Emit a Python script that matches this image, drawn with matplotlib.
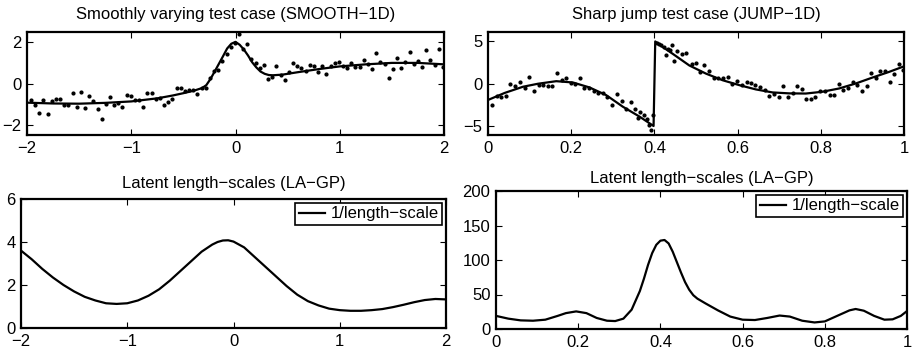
import numpy as np
import matplotlib
matplotlib.use('Agg')
import matplotlib.pyplot as plt
from matplotlib.ticker import FuncFormatter

plt.rcParams['font.family'] = ['Liberation Sans', 'DejaVu Sans']

# ---------------- SMOOTH-1D ----------------
smooth_title = "Smoothly varying test case (SMOOTH\u22121D)"
smooth_x_first, smooth_x_last = -1.962, 1.989
smooth_obs_y = [-0.78, -1.06, -1.44, -0.79, -1.50, -0.87, -0.77, -0.74, -1.03, -1.03,
                -0.44, -1.16, -0.39, -1.19, -0.61, -0.87, -1.26, -1.71, -0.98, -0.66,
                -1.06, -0.95, -1.16, -0.58, -0.60, -0.82, -0.79, -1.16, -0.45, -0.45,
                -0.77, -0.70, -1.06, -0.92, -0.77, -0.24, -0.24, -0.35, -0.32, -0.30,
                -0.53, -0.22, -0.24, 0.29, 0.62, 0.65, 1.10, 1.45, 1.78, 1.95,
                2.40, 1.66, 1.90, 1.18, 1.00, 0.74, 0.90, 0.21, 0.31, 0.87,
                0.42, 0.15, 0.58, 1.00, 0.84, 0.77, 0.61, 0.90, 0.87, 0.58,
                0.84, 0.45, 0.84, 1.00, 1.03, 0.87, 0.73, 0.98, 0.82, 0.82,
                1.15, 0.95, 0.71, 1.47, 1.02, 0.95, 0.27, 0.69, 1.26, 0.74,
                1.05, 1.55, 0.94, 1.11, 0.82, 1.63, 1.15, 0.90, 1.68, 0.82]
smooth_fit_x = [-2.0, -1.75, -1.5, -1.25, -1.0, -0.75, -0.6, -0.5, -0.4, -0.32, -0.28,
                -0.24, -0.2, -0.16, -0.12, -0.08, -0.04, 0.0, 0.04, 0.08, 0.12, 0.16,
                0.2, 0.24, 0.28, 0.32, 0.36, 0.45, 0.6, 0.8, 1.0, 1.25, 1.5, 1.75, 2.0]
smooth_fit_y = [-0.93, -0.97, -0.98, -0.94, -0.87, -0.72, -0.58, -0.47, -0.35, -0.22, -0.08,
                0.22, 0.58, 0.95, 1.32, 1.70, 1.93, 2.02, 1.88, 1.65, 1.36, 1.03,
                0.78, 0.58, 0.47, 0.41, 0.40, 0.43, 0.55, 0.70, 0.83, 0.93, 1.00, 1.00, 0.93]

# ---------------- JUMP-1D ----------------
jump_title = "Sharp jump test case (JUMP\u22121D)"
jump_obs_x = [0.010, 0.022, 0.032, 0.043, 0.054, 0.066, 0.076, 0.088, 0.098, 0.110,
              0.122, 0.133, 0.144, 0.155, 0.165, 0.177, 0.188, 0.199, 0.210, 0.222,
              0.231, 0.242, 0.254, 0.265, 0.276, 0.287, 0.298, 0.310, 0.321, 0.332,
              0.343, 0.354, 0.360, 0.366, 0.376, 0.382, 0.388, 0.392, 0.397,
              0.406, 0.410, 0.416, 0.422, 0.427, 0.432, 0.438, 0.443, 0.448, 0.454,
              0.466, 0.476, 0.490, 0.499, 0.510, 0.520, 0.531, 0.543, 0.554, 0.566,
              0.576, 0.587, 0.599, 0.610, 0.622, 0.632, 0.643, 0.654,
              0.666, 0.675, 0.687, 0.699, 0.710, 0.721, 0.732, 0.743, 0.755, 0.765,
              0.776, 0.787, 0.798, 0.810, 0.821, 0.832, 0.843, 0.854, 0.866, 0.877,
              0.888, 0.899, 0.910, 0.921, 0.932, 0.943, 0.954, 0.966, 0.977, 0.988, 0.997]
jump_obs_y = [-2.54, -1.50, -1.62, -1.42, -0.04, -0.31, 0.15, -0.58, 0.81, -0.88,
              -0.15, -0.19, -0.27, -0.31, 1.27, 0.38, 0.65, 0.04, -0.04, 0.65,
              -0.58, -0.58, -0.85, -1.12, -1.15, -1.58, -2.46, -1.23, -2.04, -2.92,
              -2.15, -3.00, -4.00, -3.30, -3.70, -4.10, -4.80, -5.40, -3.70,
              4.77, 4.65, 4.54, 4.27, 3.31, 4.00, 3.88, 4.46, 2.65, 3.77,
              3.42, 3.50, 2.23, 2.35, 1.38, 2.15, 1.46, 0.62, 0.69, 0.62,
              0.73, -0.08, 0.31, -0.15, 0.23, 0.04, -0.15, -0.42,
              -0.73, -1.42, -1.23, -1.62, -0.27, -1.58, -1.15, -0.27, -0.65, -1.77,
              -1.81, -1.62, -0.88, -0.85, -1.35, -1.31, -0.08, -0.77, -0.58, 0.12,
              -0.15, -0.88, -0.31, 1.27, 0.62, 1.50, 1.42, 0.12, 1.12, 2.23, 1.58]
jump_fit_x = [0.0, 0.04, 0.084, 0.12, 0.164, 0.204, 0.244, 0.284, 0.324, 0.364, 0.398,
              0.402, 0.42, 0.444, 0.484, 0.524, 0.564, 0.604, 0.644, 0.684, 0.724,
              0.764, 0.804, 0.844, 0.884, 0.924, 0.964, 1.0]
jump_fit_y = [-1.92, -1.10, -0.38, -0.03, 0.27, 0.12, -0.46, -1.35, -2.70, -3.85, -4.95,
              4.90, 4.25, 3.46, 2.10, 1.15, 0.38, -0.19, -0.69, -1.04, -1.15,
              -1.17, -0.96, -0.58, 0.00, 0.69, 1.35, 2.00]

# ---------------- Length-scales ----------------
ls_title = "Latent length\u2212scales (LA\u2212GP)"
ls_label = "1/length\u2212scale"
ls_smooth_x = [-2.0, -1.9, -1.8, -1.7, -1.6, -1.5, -1.4, -1.3, -1.2, -1.1, -1.0,
               -0.9, -0.8, -0.7, -0.6, -0.5, -0.4, -0.3, -0.2, -0.15, -0.1, -0.05, 0.0,
               0.1, 0.2, 0.3, 0.4, 0.5, 0.6, 0.7, 0.8, 0.9, 1.0,
               1.1, 1.2, 1.3, 1.4, 1.5, 1.6, 1.7, 1.8, 1.9, 2.0]
ls_smooth_y = [3.60, 3.20, 2.75, 2.35, 2.00, 1.70, 1.45, 1.28, 1.15, 1.12, 1.15,
               1.28, 1.50, 1.80, 2.20, 2.65, 3.10, 3.55, 3.88, 4.00, 4.07, 4.08, 4.02,
               3.75, 3.30, 2.85, 2.40, 1.95, 1.55, 1.25, 1.05, 0.90, 0.83,
               0.80, 0.80, 0.83, 0.88, 0.97, 1.08, 1.20, 1.30, 1.35, 1.33]
ls_jump_x = [0.0, 0.03, 0.06, 0.09, 0.12, 0.15, 0.17, 0.195, 0.22, 0.245, 0.27, 0.29,
             0.31, 0.33, 0.35, 0.36, 0.37, 0.38, 0.39, 0.40, 0.41, 0.42, 0.43, 0.44,
             0.45, 0.46, 0.47, 0.48, 0.49,
             0.51, 0.54, 0.57, 0.60, 0.63, 0.66, 0.69, 0.715, 0.745, 0.775, 0.80, 0.83,
             0.86, 0.875, 0.895, 0.92, 0.945, 0.965, 0.985, 1.0]
ls_jump_y = [19, 15, 12.5, 12, 13.5, 19, 23, 25.5, 23, 16, 12, 11.5,
             15, 28, 55, 73, 93, 110, 122, 128, 129, 124, 112, 97,
             82, 68, 57, 49, 44,
             37, 27, 18, 13.5, 13, 16, 19.5, 18, 12, 9.5, 11, 19,
             27, 29, 26.5, 19, 13.5, 14, 19, 26]

W, H = 913, 353
fig = plt.figure(figsize=(W / 100, H / 100), dpi=100)


def box(l, t, r, b):
    return [l / W, 1 - b / H, (r - l) / W, (b - t) / H]


def style(ax):
    ax.tick_params(direction='in', top=True, right=True, length=4, width=0.8,
                   labelsize=12, pad=4, colors='black')
    for s in ax.spines.values():
        s.set_linewidth(1.6)


fmt = FuncFormatter(lambda v, p: ('%g' % v).replace('-', '\u2212'))
lw = 1.6
title_fs = 12

# Top-left
ax1 = fig.add_axes(box(27, 32, 444, 135))
ax1.plot(np.linspace(smooth_x_first, smooth_x_last, len(smooth_obs_y)), smooth_obs_y,
         'o', color='black', markersize=2.0, linestyle='none')
ax1.plot(smooth_fit_x, smooth_fit_y, color='black', lw=lw)
ax1.set_xlim(-2, 2)
ax1.set_ylim(-2.5, 2.5)
ax1.set_xticks([-2, -1, 0, 1, 2])
ax1.set_yticks([-2, 0, 2])
ax1.xaxis.set_major_formatter(fmt)
ax1.yaxis.set_major_formatter(fmt)
ax1.set_title(smooth_title, fontsize=title_fs, pad=9)
style(ax1)

# Top-right
ax2 = fig.add_axes(box(488, 32, 904, 135))
ax2.plot(jump_obs_x, jump_obs_y, 'o', color='black', markersize=2.0, linestyle='none')
ax2.plot(jump_fit_x, jump_fit_y, color='black', lw=lw)
ax2.set_xlim(0, 1)
ax2.set_ylim(-6, 6)
ax2.set_xticks([0, 0.2, 0.4, 0.6, 0.8, 1])
ax2.set_yticks([-5, 0, 5])
ax2.xaxis.set_major_formatter(fmt)
ax2.yaxis.set_major_formatter(fmt)
ax2.set_title(jump_title, fontsize=title_fs, pad=9)
style(ax2)

# Bottom-left
ax3 = fig.add_axes(box(21, 199, 446, 328))
ax3.plot(ls_smooth_x, ls_smooth_y, color='black', lw=lw, label=ls_label)
ax3.set_xlim(-2, 2)
ax3.set_ylim(0, 6)
ax3.set_xticks([-2, -1, 0, 1, 2])
ax3.set_yticks([0, 2, 4, 6])
ax3.xaxis.set_major_formatter(fmt)
ax3.yaxis.set_major_formatter(fmt)
ax3.set_title(ls_title, fontsize=title_fs, pad=8)
style(ax3)

# Bottom-right
ax4 = fig.add_axes(box(496, 191, 907, 329))
ax4.plot(ls_jump_x, ls_jump_y, color='black', lw=lw, label=ls_label)
ax4.set_xlim(0, 1)
ax4.set_ylim(0, 200)
ax4.set_xticks([0, 0.2, 0.4, 0.6, 0.8, 1])
ax4.set_yticks([0, 50, 100, 150, 200])
ax4.xaxis.set_major_formatter(fmt)
ax4.yaxis.set_major_formatter(fmt)
ax4.set_title(ls_title, fontsize=title_fs, pad=6)
style(ax4)

for ax in (ax3, ax4):
    leg = ax.legend(loc='upper right', fancybox=False, edgecolor='black', framealpha=1,
                    fontsize=12, handlelength=1.6, handletextpad=0.3, borderpad=0.2,
                    borderaxespad=0.25)
    leg.get_frame().set_linewidth(1.2)

fig.savefig('out.png', dpi=100)
